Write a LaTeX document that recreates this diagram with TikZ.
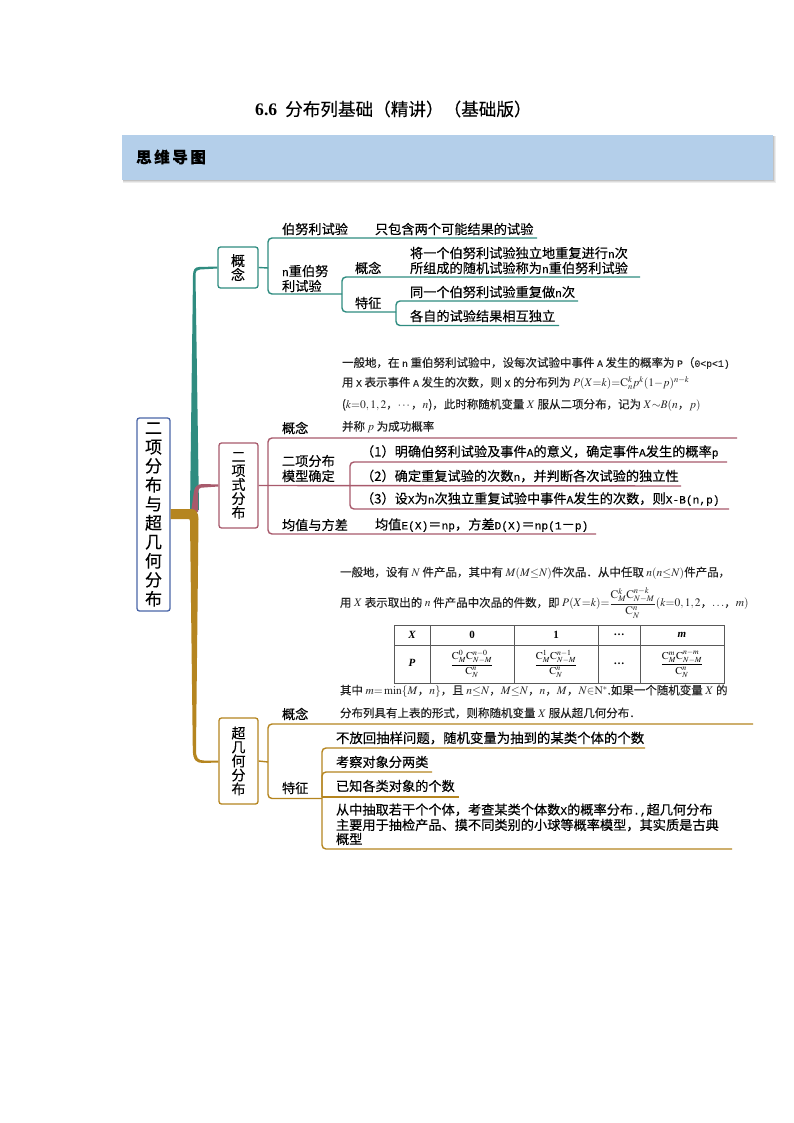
\documentclass[tikz,border=0pt]{standalone}
\usetikzlibrary{calc}
\usepackage{amsmath}
\usepackage{mathptmx}
\usepackage[no-math]{fontspec}
\setmainfont[FakeBold=0.25]{Noto Sans CJK SC}
\newfontfamily\lat{Liberation Serif}
\newfontfamily\hw[Scale=0.85,FakeBold=0.2]{Liberation Mono}
\newcommand\latn[1]{{\hw #1}}
\newcommand\fs[1]{\fontsize{#1}{#1}\selectfont}
\newcommand\hfrac[1]{$\dfrac{\mathrm{C}_{M}^{#1}\mathrm{C}_{N-M}^{n-#1}}{\mathrm{C}_{N}^{n}}$}
\definecolor{tealc}{HTML}{2F8C80}
\definecolor{pinkc}{HTML}{A85A6C}
\definecolor{goldc}{HTML}{B5851F}
\definecolor{bluec}{HTML}{4A66A8}
\definecolor{bannerc}{HTML}{B4CFEA}
\definecolor{parac}{HTML}{222222}
\tikzset{
  txt/.style={anchor=west,inner sep=0pt,outer sep=0pt,align=left,font=\fs{13.2},text=black},
  para/.style={anchor=west,inner sep=0pt,outer sep=0pt,font=\fs{11.5},text=parac},
  tealbox/.style={draw=tealc,line width=1.3pt,rounded corners=2.5pt,fill=white,minimum width=40pt,minimum height=41pt,inner sep=0pt,align=center,font=\fs{14},text=black},
  pinkbox/.style={draw=pinkc,line width=1.3pt,rounded corners=2.5pt,fill=white,minimum width=39pt,minimum height=85pt,inner sep=0pt,align=center,font=\fs{14},text=black},
  goldbox/.style={draw=goldc,line width=1.3pt,rounded corners=2.5pt,fill=white,minimum width=39pt,minimum height=86pt,inner sep=0pt,align=center,font=\fs{14},text=black},
  rootbox/.style={draw=bluec,line width=1.3pt,rounded corners=2.5pt,fill=white,minimum width=33pt,minimum height=193pt,inner sep=0pt,align=center,font=\fs{17},text=black},
  tealln/.style={draw=tealc,line width=1.4pt,rounded corners=4pt},
  pinkln/.style={draw=pinkc,line width=1.4pt,rounded corners=4pt},
  goldln/.style={draw=goldc,line width=1.4pt,rounded corners=4pt},
  cell/.style={inner sep=0pt,font=\fs{11}\bfseries,text=black},
  tabln/.style={draw=black!65,line width=0.8pt},
}
\begin{document}
\begin{tikzpicture}[x=1pt,y=-1pt]
\useasboundingbox (0,0) rectangle (794,1123);
\fill[white] (0,0) rectangle (794,1123);

% title
\node[inner sep=0pt,anchor=west,font=\fs{17.6}] (title) at (255,109) {{\lat\bfseries 6.6}\hspace{8pt}分布列基础（精讲）（基础版）};

% banner
\fill[black!7] (123,136) rectangle (776,183);
\fill[black!14] (123,136) rectangle (775,182);
\fill[black!24] (123,136) rectangle (774,181);
\node[fill=bannerc,minimum width=651pt,minimum height=45pt,inner sep=0pt,anchor=north west] (banner) at (122,134.5) {};
\node[inner sep=0pt,anchor=west,font=\fs{15.5}\bfseries] (bannertext) at (136,157) {思\,维\,导\,图};

% trunks
\coordinate (trunkjoin) at (190,510);
\node[rootbox] (root) at (153.5,514.5) {二\\[2pt]项\\[2pt]分\\[2pt]布\\[2pt]与\\[2pt]超\\[2pt]几\\[2pt]何\\[2pt]分\\[2pt]布};
\node[tealbox] (b1) at (238,267.5) {概\\念};
\node[pinkbox] (b2) at (238.5,485.5) {二\\项\\式\\分\\布};
\node[goldbox] (b3) at (238.5,761) {超\\几\\何\\分\\布};

\fill[tealc] (b1.west) ++(0,-1) -- (199,267) .. controls (195,267) and (193,270) .. (193,275)
  -- (trunkjoin) -- (199,510) -- (195.5,275) .. controls (195.5,271) and (197,269.5) .. (200,269.5) -- ($(b1.west)+(0,1)$) -- cycle;
\fill[pinkc] (b2.west) ++(0,-1) -- (203,484) .. controls (198,484) and (195,486) .. (194,491)
  -- (191,512) -- (198,512) -- (198,493) .. controls (198,489) and (200,487) .. (204,487.5) -- ($(b2.west)+(0,1)$) -- cycle;
\fill[goldc] (root.east) ++(0,-5.5) -- (192,509) .. controls (196,509) and (198.5,513) .. (198.5,519)
  -- (196,750) .. controls (196,758) and (198,760.5) .. (204,760.5) -- ($(b3.west)+(0,-0.5)$) -- ($(b3.west)+(0,1.5)$)
  -- (203,763) .. controls (196,763) and (193,760) .. (192.8,750) -- (190,521) .. controls (190,519.5) and (189.5,519) .. (188,519) -- ($(root.east)+(0,4.5)$) -- cycle;

% section 1
\coordinate (a1) at (268,268);
\draw[tealln] (b1.east) -- (a1);
\draw[tealln] (537,238) -- (268,238) -- (a1) -- (268,294) -- (342,294);
\draw[tealln] (640,277) -- (342,277) -- (342,312) -- (396,312);
\draw[tealln] (578,301) -- (396,301) -- (396,325.5) -- (559,325.5);
\node[txt] (t11) at (282,229) {伯努利试验};
\node[txt] (t12) at (375,229) {只包含两个可能结果的试验};
\node[txt] (t13) at (282,271) {\latn{n}重伯努};
\node[txt] (t14) at (282,286) {利试验};
\node[txt] (t15) at (355,268) {概念};
\node[txt] (t16) at (355,303) {特征};
\node[txt] (t17) at (410,253) {将一个伯努利试验独立地重复进行\latn{n}次};
\node[txt] (t18) at (410,268) {所组成的随机试验称为\latn{n}重伯努利试验};
\node[txt] (t19) at (410,292) {同一个伯努利试验重复做\latn{n}次};
\node[txt] (t110) at (410,316) {各自的试验结果相互独立};

% section 2
\draw[pinkln] (737,438) -- (268,438) -- (268,534) -- (596,534);
\draw[pinkln] (b2.east) -- (681,486);
\draw[pinkln] (727,462) -- (350,462) -- (350,509) -- (729,509);
\node[para] (p1) at (342,363) {一般地，在 \latn{n} 重伯努利试验中，设每次试验中事件 \latn{A} 发生的概率为 \latn{P}（\latn{0<p<1)}};
\node[para] (p2) at (342,383) {用 \latn{X} 表示事件 \latn{A} 发生的次数，则 \latn{X} 的分布列为 $P(X{=}k){=}\mathrm{C}_{n}^{k}p^{k}(1{-}p)^{n-k}$};
\node[para] (p3) at (342,405) {($k{=}0,1,2$，$\cdots$，$n$)，此时称随机变量 $X$ 服从二项分布，记为 $X{\sim}B(n$，$p)$};
\node[para] (p4) at (342,427) {并称 $p$ 为成功概率};
\node[txt] (t21) at (282,428) {概念};
\node[txt] (t22) at (282,461) {二项分布};
\node[txt] (t23) at (282,476) {模型确定};
\node[txt] (t24) at (282,525) {均值与方差};
\node[txt] (t25) at (375,525) {均值\latn{E(X)}＝\latn{np}，方差\latn{D(X)}＝\latn{np(1}－\latn{p)}};
\node[txt] (t26) at (361,452) {（1）明确伯努利试验及事件\latn{A}的意义，确定事件\latn{A}发生的概率\latn{p}};
\node[txt] (t27) at (361,476) {（2）确定重复试验的次数\latn{n}，并判断各次试验的独立性};
\node[txt] (t28) at (361,499) {（3）设\latn{X}为\latn{n}次独立重复试验中事件\latn{A}发生的次数，则\latn{X-B(n,p)}};

% hypergeometric paragraph
\node[para] (q1) at (340,573) {一般地，设有 $N$ 件产品，其中有 $M(M{\leq}N)$件次品．从中任取 $n(n{\leq}N)$件产品，};
\node[para] (q2) at (340,603) {用 $X$ 表示取出的 $n$ 件产品中次品的件数，即 $P(X{=}k){=}\dfrac{\mathrm{C}_{M}^{k}\mathrm{C}_{N-M}^{n-k}}{\mathrm{C}_{N}^{n}}(k{=}0,1,2$，$\ldots$，$m)$};

% table
\draw[tabln] (394,625) rectangle (724,683);
\draw[tabln] (394,645) -- (724,645);
\foreach \c in {430,514,598,640}{\draw[tabln] (\c,625) -- (\c,683);}
\node[cell] (cx) at (412,635) {{\lat\bfseries\itshape X}};
\node[cell] (c0) at (472,635) {{\lat\bfseries 0}};
\node[cell] (c1) at (556,635) {{\lat\bfseries 1}};
\node[cell] (cd) at (619,635) {{\lat\bfseries …}};
\node[cell] (cm) at (682,635) {{\lat\bfseries\itshape m}};
\node[cell] (rp) at (412,663) {{\lat\bfseries\itshape P}};
\node[cell,font=\fs{10.5}] (r0) at (472,664) {\hfrac{0}};
\node[cell,font=\fs{10.5}] (r1) at (556,664) {\hfrac{1}};
\node[cell] (rd) at (619,664) {{\lat\bfseries …}};
\node[cell,font=\fs{10.5}] (rm) at (682,664) {\hfrac{m}};

\node[para] (q3) at (340,691) {其中 $m{=}\min\{M$，$n\}$，且 $n{\leq}N$，$M{\leq}N$，$n$，$M$，$N{\in}\mathrm{N}^{*}$.如果一个随机变量 $X$ 的};
\node[para] (q4) at (340,713) {分布列具有上表的形式，则称随机变量 $X$ 服从超几何分布．};

% section 3
\draw[goldln] (753,724) -- (268,724) -- (268,798.5) -- (322,798.5);
\draw[goldln] (b3.east) -- (268,762);
\draw[goldln] (645,748) -- (322,748) -- (322,849) -- (732,849);
\draw[goldln] (432,772) -- (322,772) -- (322,797);
\draw[goldln] (459,797) -- (322,797);
\node[txt] (t31) at (282,714) {概念};
\node[txt] (t32) at (282,788) {特征};
\node[txt,font=\fs{13.4}] (t33) at (336,738) {不放回抽样问题，随机变量为抽到的某类个体的个数};
\node[txt] (t34) at (336,762) {考察对象分两类};
\node[txt] (t35) at (336,786) {已知各类对象的个数};
\node[txt] (t36) at (336,810) {从中抽取若干个个体，考查某类个体数\latn{X}的概率分布\latn{.,}超几何分布};
\node[txt] (t37) at (336,825) {主要用于抽检产品、摸不同类别的小球等概率模型，其实质是古典};
\node[txt] (t38) at (336,839) {概型};
\end{tikzpicture}
\end{document}
